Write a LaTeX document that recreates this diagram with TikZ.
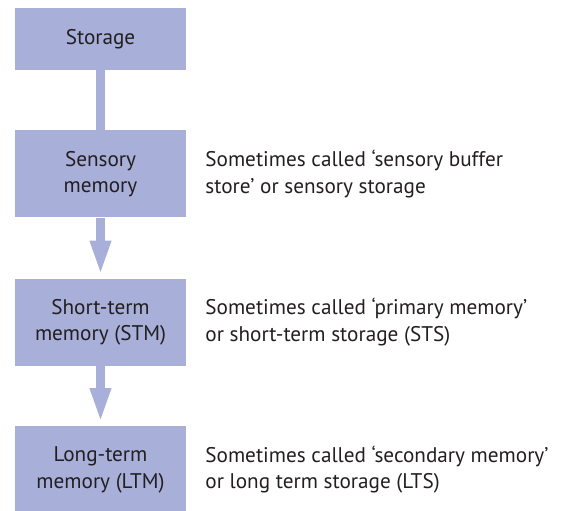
\documentclass[tikz,border=0pt]{standalone}
\usepackage{fontspec}
\setmainfont{PT Sans}
\usepackage{xcolor}
\usetikzlibrary{arrows.meta,positioning}
\definecolor{boxblue}{RGB}{168,175,217}
\definecolor{txtgray}{RGB}{35,31,32}

\begin{document}
\begin{tikzpicture}[x=1pt, y=-1pt, font=\fontsize{21.2}{26.5}\selectfont, text=txtgray, node distance=60pt and 19pt,
  box/.style={fill=boxblue, align=center, inner sep=0pt, minimum width=171pt, minimum height=87pt},
  note/.style={align=left, inner sep=0pt},
  link/.style={boxblue, line width=9pt},
  flow/.style={boxblue, line width=9pt, shorten >=3pt, -{Triangle[width=19pt,length=35pt]}}]
\useasboundingbox (0,0) rectangle (563,511);
\node[box, minimum height=62pt] (st) at (100.5,39) {Storage};
\node[box, below=of st] (sm) {Sensory\\memory};
\node[box, below=61pt of sm] (stm) {Short-term\\memory (STM)};
\node[box, below=of stm] (ltm) {Long-term\\memory (LTM)};
\node[note, right=of sm] (smn) {Sometimes called ‘sensory buffer\\store’ or sensory storage};
\node[note, right=of stm] (stmn) {Sometimes called ‘primary memory’\\or short-term storage (STS)};
\node[note, right=of ltm] (ltmn) {Sometimes called ‘secondary memory’\\or long term storage (LTS)};
\draw[link] (st)--(sm);
\draw[flow] (sm)--(stm);
\draw[flow] (stm)--(ltm);
\end{tikzpicture}
\end{document}
